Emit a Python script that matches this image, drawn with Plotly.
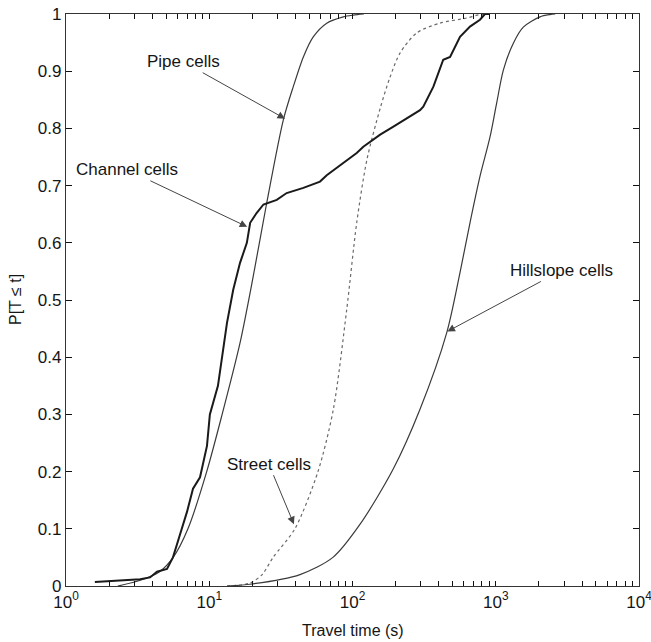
import plotly.graph_objects as go
import numpy as np

# ---- data ----
pipe_t = [2.3, 3.3, 4.5, 5.6, 7.1, 9.6, 12.3, 16.4, 20.3, 25.2, 32.9, 38.6, 45.4, 53.2, 66.1, 86.3, 101, 120]
pipe_p = [0, 0.01, 0.025, 0.05, 0.1, 0.2, 0.3, 0.425, 0.542, 0.67, 0.815, 0.873, 0.925, 0.96, 0.984, 0.995, 0.998, 1.0]

channel_t = [1.59, 3.29, 3.86, 4.32, 5.07, 5.58, 6.25, 7.0, 7.7, 8.62, 9.64, 10.1, 11.5, 12.3, 13.3,
             14.7, 16.4, 18.3, 19.3, 21.4, 23.9, 29.6, 34.7, 45.4, 59.3, 66.1, 86.3, 107, 119, 140,
             156, 193, 252, 296, 312, 367, 430, 480, 563, 661, 776, 841, 900]
channel_p = [0.007, 0.012, 0.015, 0.025, 0.03, 0.05, 0.09, 0.13, 0.17, 0.19, 0.245, 0.3, 0.35, 0.4, 0.46,
             0.518, 0.565, 0.6, 0.635, 0.652, 0.667, 0.675, 0.687, 0.696, 0.707, 0.718, 0.74, 0.757, 0.768, 0.78,
             0.789, 0.803, 0.821, 0.832, 0.838, 0.873, 0.92, 0.925, 0.96, 0.978, 0.99, 1.0, 1.0]

street_t = [13.3, 19.2, 23.4, 27.9, 39.6, 57.4, 73.5, 91.1, 107, 126, 156, 183, 215, 281, 408, 627, 776, 850]
street_p = [0, 0.005, 0.02, 0.05, 0.1, 0.2, 0.309, 0.483, 0.635, 0.745, 0.835, 0.89, 0.932, 0.967, 0.984, 0.993, 0.999, 1.0]

hill_t = [13.3, 19.2, 43, 73, 113, 192, 296, 455, 563, 661, 776, 912, 1016, 1130, 1327, 1557, 2037, 2392, 2600]
hill_p = [0, 0.003, 0.02, 0.05, 0.108, 0.204, 0.309, 0.443, 0.548, 0.635, 0.716, 0.785, 0.845, 0.902, 0.949, 0.977, 0.995, 0.999, 1.0]

x_major_tickvals = [1, 10, 100, 1000, 10000]
x_major_ticktext = ["10<sup>0</sup>", "10<sup>1</sup>", "10<sup>2</sup>", "10<sup>3</sup>", "10<sup>4</sup>"]
x_minor_tickvals = [2, 3, 4, 5, 6, 7, 8, 9,
                    20, 30, 40, 50, 60, 70, 80, 90,
                    200, 300, 400, 500, 600, 700, 800, 900,
                    2000, 3000, 4000, 5000, 6000, 7000, 8000, 9000]
y_tickvals = [0, 0.1, 0.2, 0.3, 0.4, 0.5, 0.6, 0.7, 0.8, 0.9, 1.0]
y_ticktext = ["0", "0.1", "0.2", "0.3", "0.4", "0.5", "0.6", "0.7", "0.8", "0.9", "1"]

labels = ["Pipe cells", "Channel cells", "Street cells", "Hillslope cells"]
label_tip_t = [33.8, 18.4, 39.0, 460]
label_tip_p = [0.817, 0.628, 0.108, 0.445]
label_ax = [-102, -120, -25, 114]
label_ay = [-57, -57, -60, -61]

FONT = "Liberation Sans, Arial, sans-serif"
TXT = "#151515"

# all x ticks: labelled majors + unlabelled minors on one axis
x_all_tickvals = x_major_tickvals + x_minor_tickvals
x_all_ticktext = x_major_ticktext + [""] * len(x_minor_tickvals)

fig = go.Figure()
fig.add_trace(go.Scatter(x=pipe_t, y=pipe_p, mode="lines",
                         line=dict(color="#3a3a3a", width=1.2, shape="spline", smoothing=0.8), showlegend=False))
fig.add_trace(go.Scatter(x=street_t, y=street_p, mode="lines",
                         line=dict(color="#6a6a6a", width=1.2, dash="dot", shape="spline", smoothing=0.8), showlegend=False))
fig.add_trace(go.Scatter(x=hill_t, y=hill_p, mode="lines",
                         line=dict(color="#3a3a3a", width=1.2, shape="spline", smoothing=0.8), showlegend=False))
fig.add_trace(go.Scatter(x=channel_t, y=channel_p, mode="lines",
                         line=dict(color="#1a1a1a", width=2.0), showlegend=False))

for txt, tx, ty, ax, ay in zip(labels, label_tip_t, label_tip_p, label_ax, label_ay):
    fig.add_annotation(x=np.log10(tx), y=ty, xref="x", yref="y", text=txt, showarrow=True,
                       ax=ax, ay=ay, arrowhead=2, arrowsize=1.5, arrowwidth=1, arrowcolor="#444",
                       font=dict(family=FONT, size=17, color=TXT))

# axis titles
fig.add_annotation(text="Travel time (s)", xref="paper", yref="paper", x=0.5, y=-0.077,
                   xanchor="center", yanchor="middle", showarrow=False,
                   font=dict(family=FONT, size=16, color=TXT))
fig.add_annotation(text="P[T ≤ t]", xref="paper", yref="paper", x=-0.089, y=0.5,
                   xanchor="center", yanchor="middle", showarrow=False, textangle=-90,
                   font=dict(family=FONT, size=16, color=TXT))

fig.update_layout(
    width=651, height=642, margin=dict(l=66, r=12, t=14, b=56),
    plot_bgcolor="white", paper_bgcolor="white",
    xaxis=dict(type="log", range=[0, 4], tickmode="array", tickvals=x_all_tickvals, ticktext=x_all_ticktext,
               ticks="inside", ticklen=5, tickcolor="#111", tickwidth=1.4, showline=True, linecolor="#333",
               linewidth=1.2, mirror="ticks", showgrid=False, zeroline=False, automargin=False,
               ticklabeloverflow="allow",
               tickfont=dict(family=FONT, size=17, color=TXT)),
    yaxis=dict(range=[0, 1], tickvals=y_tickvals, ticktext=y_ticktext,
               ticks="inside", ticklen=6, tickcolor="#111", tickwidth=1.2, showline=True, linecolor="#333",
               linewidth=1.2, mirror="ticks", showgrid=False, zeroline=False, automargin=False,
               tickfont=dict(family=FONT, size=17, color=TXT)),
)
fig.write_html("out.html")
